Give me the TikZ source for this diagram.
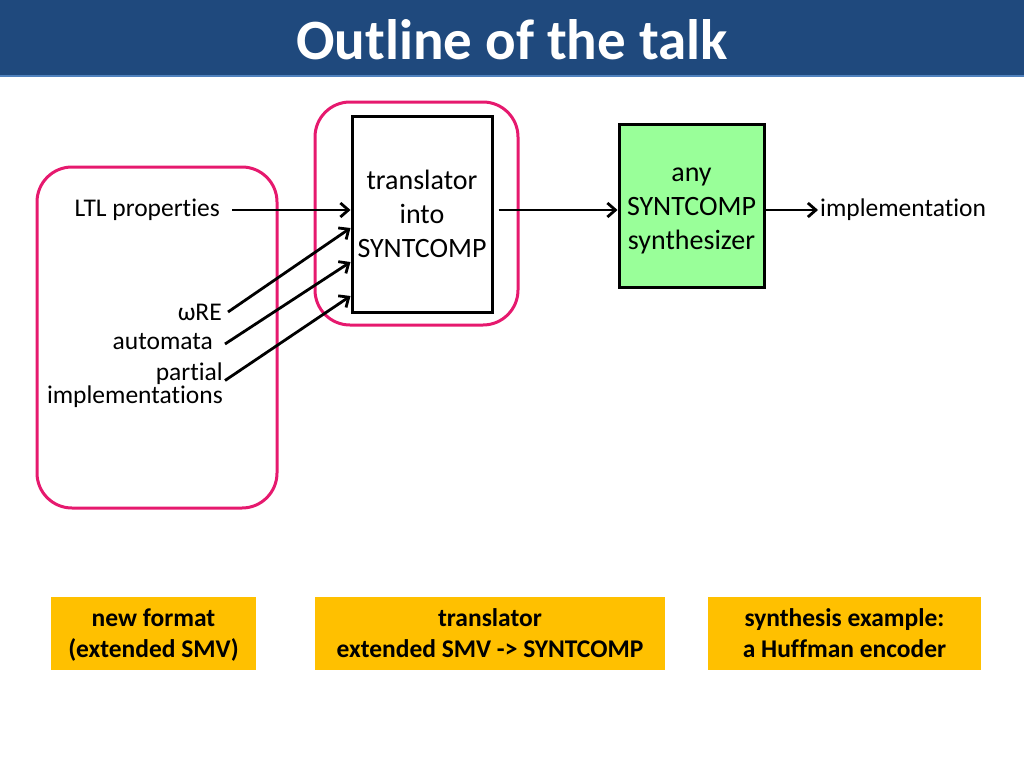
\documentclass[tikz,border=0pt]{standalone}
\usepackage{fontspec}
\setmainfont{Carlito}[Ligatures=NoCommon]
\usetikzlibrary{arrows.meta,positioning,calc}
\definecolor{titleblue}{RGB}{31,73,125}
\definecolor{rimblue}{RGB}{79,129,189}
\definecolor{framepink}{RGB}{230,25,110}
\definecolor{synthgreen}{RGB}{153,255,153}
\definecolor{noteorange}{RGB}{255,192,0}

\begin{document}
\begin{tikzpicture}[x=1pt,y=-1pt,
  every node/.style={font=\fontsize{25.5}{34}\selectfont},
  lbl/.style={inner sep=2pt},
  blockbox/.style={draw=black,line width=3pt,align=center,inner sep=0pt,text depth=0pt,
    font=\fontsize{28}{34}\selectfont},
  pinkframe/.style={draw=framepink,line width=3pt,rounded corners=35pt},
  notebox/.style={fill=noteorange,align=center,inner sep=0pt,text depth=0pt,
    font=\bfseries\fontsize{25.5}{31}\selectfont},
  arr/.style={line width=2.8pt,-{Straight Barb[length=8pt,width=14pt]}}]

\useasboundingbox (0,0) rectangle (1024,768);

% Title bar
\fill[titleblue] (0,0) rectangle (1024,75);
\draw[rimblue, line width=2pt] (0,76) -- (1024,76);
\node[text=white, font=\bfseries\fontsize{57}{64}\selectfont] (title) at (512,40) {Outline of the talk};

% Pink frames
\draw[pinkframe] (37,167) rectangle (277,508);
\draw[pinkframe] (315,102) rectangle (518,325);

% Blocks
\node[blockbox, fill=white, minimum width=140pt, minimum height=196pt] (trans) at (422,214)
  {translator\\into\\SYNTCOMP};
\node[blockbox, fill=synthgreen, minimum width=145pt, minimum height=163pt] (synth) at (691.5,205.5)
  {\vphantom{l}any\\SYNTCOMP\\synthesizer};

% Inputs
\node[lbl, anchor=east] (ltl) at (222,210) {LTL properties};
\node[lbl, anchor=east] (omre) at (224,312) {ωRE};
\node[lbl, anchor=east] (auto) at (215,342) {automata};
\node[lbl, anchor=east, align=right, font=\fontsize{25.5}{23}\selectfont] (partial) at (225,385.5)
  {partial\\implementations};
\node[lbl, anchor=west] (impl) at (818,210) {implementation};

% Arrows
\draw[arr] ($(ltl.east)+(10,0)$) -- (ltl.east -| trans.west);
\draw[arr] ($(omre.east)+(4,0)$) -- ($(trans.west)+(0,14)$);
\draw[arr] ($(auto.east)+(10,2)$) -- ($(trans.west)+(0,48)$);
\draw[arr] ($(partial.east)+(0,-5)$) -- ($(trans.west)+(0,82)$);
\draw[arr] ($(ltl.east -| trans.east)+(5,0)$) -- (ltl.east -| synth.west);
\draw[arr] (ltl.east -| synth.east) -- (impl.west);

% Notes at the bottom
\node[notebox, minimum width=205pt, minimum height=73pt] (fmt) at (153.5,633.5)
  {new format\\(extended SMV)};
\node[notebox, minimum width=350pt, minimum height=73pt] (tool) at (490,633.5)
  {translator\\extended SMV -> SYNTCOMP};
\node[notebox, minimum width=273pt, minimum height=73pt] (demo) at (844.5,633.5)
  {synthesis example:\\a Huffman encoder};

\end{tikzpicture}
\end{document}
